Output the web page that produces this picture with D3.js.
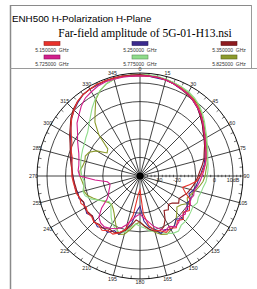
<!DOCTYPE html>
<html>
<head>
<meta charset="utf-8">
<script src="https://cdn.jsdelivr.net/npm/d3@7"></script>
<style>
  body { margin: 0; background: #fff; }
  svg { display: block; }
</style>
</head>
<body>
<svg></svg>
<script>
// angles of the measurement, degrees clockwise from the top
const angles = [0, 5, 10, 15, 20, 25, 30, 35, 40, 45, 50, 55, 60, 65, 70, 75, 80, 85,
  90, 95, 100, 105, 110, 115, 120, 125, 130, 135, 140, 145, 150, 155, 160, 165, 170, 175,
  180, 185, 190, 195, 200, 205, 210, 215, 220, 225, 230, 235, 240, 245, 250, 255, 260, 265,
  270, 275, 280, 285, 290, 295, 300, 305, 310, 315, 320, 325, 330, 335, 340, 345, 350, 355]

// legend names and colours
const freqs = ['5.150000  GHz', '5.250000  GHz', '5.350000  GHz',
  '5.725000  GHz', '5.775000  GHz', '5.825000  GHz']
const colors = ['#e8312b', '#3b2a8e', '#8e1b1f', '#d21f8c', '#8fdc8a', '#8c9b2c']

// amplitude in dB, one value per angle
const s5150 = [13.9, 13.9, 13.9, 13.4, 12.8, 12.3, 11.2, 10.1, 8.5, 6.4, 4.2, 2.1, 0.4, -1.2, -2.3, -3.3, -4.4, -6.0,
  -7.6, -9.3, -13.0, -16.3, -14.1, -10.3, -9.3, -7.6, -9.8, -7.1, -8.7, -6.0, -7.6, -6.6, -8.7, -9.8, -13.0, -19.5,
  -32.5, -30.3, -18.4, -10.3, -7.6, -5.5, -6.0, -4.4, -5.5, -5.0, -6.0, -5.5, -6.6, -5.0, -5.5, -4.4, -4.4, -3.9,
  -3.3, -3.3, -2.8, -2.3, -0.6, 0.4, 2.6, 5.3, 8.0, 10.1, 12.3, 13.4, 13.9, 14.5, 14.5, 14.5, 14.5, 13.9]
const s5250 = [13.9, 13.9, 13.4, 13.4, 12.8, 11.8, 11.2, 9.6, 8.0, 5.8, 3.7, 1.5, -0.1, -1.7, -2.8, -3.9, -5.0, -6.6,
  -7.6, -8.7, -9.3, -10.3, -12.0, -9.8, -10.9, -8.7, -9.3, -7.6, -9.8, -7.6, -6.6, -8.2, -7.1, -10.3, -12.0, -15.7,
  -23.8, -21.1, -14.1, -10.3, -6.6, -7.6, -5.0, -6.0, -4.4, -5.5, -6.6, -5.0, -6.0, -6.6, -5.0, -5.5, -4.4, -4.4,
  -3.9, -3.3, -2.8, -1.7, -0.6, 1.0, 3.1, 5.3, 8.0, 10.1, 11.8, 13.4, 13.9, 13.9, 14.5, 14.5, 14.5, 13.9]
const s5350 = [14.5, 13.9, 13.9, 13.4, 12.8, 11.8, 10.7, 9.6, 8.0, 5.8, 3.7, 1.5, -0.1, -1.7, -3.3, -4.4, -6.0, -7.6,
  -8.7, -9.8, -10.9, -12.0, -13.0, -14.6, -15.7, -14.6, -17.4, -18.4, -16.3, -17.4, -13.0, -9.8, -8.7, -9.3, -10.9, -13.0,
  -15.2, -16.3, -13.0, -9.8, -7.6, -6.6, -7.1, -5.5, -6.0, -5.0, -6.6, -6.0, -5.5, -6.6, -5.5, -5.0, -5.0, -4.4,
  -3.9, -3.3, -2.3, -1.2, -0.1, 1.5, 3.7, 5.8, 8.5, 10.7, 12.3, 13.4, 13.9, 14.5, 14.5, 14.5, 14.5, 14.5]
const s5725 = [13.9, 13.9, 13.9, 13.4, 12.8, 11.8, 11.2, 9.6, 8.0, 6.4, 4.2, 2.1, 0.4, -1.2, -2.3, -3.3, -4.4, -5.5,
  -6.6, -7.6, -8.7, -9.8, -9.3, -10.3, -8.7, -9.8, -8.2, -9.3, -7.6, -6.6, -8.7, -7.6, -9.8, -12.0, -15.2, -17.4,
  -19.5, -18.4, -16.3, -13.0, -10.3, -8.7, -7.6, -6.6, -7.1, -8.7, -13.0, -18.4, -20.5, -21.6, -22.7, -23.3, -22.2, -15.7,
  -7.6, -6.6, -6.6, -6.0, -5.0, -3.3, -1.2, 1.0, 4.2, 6.4, 9.1, 11.2, 12.3, 13.4, 13.9, 13.9, 13.9, 13.9]
const s5775 = [14.5, 14.5, 14.5, 13.9, 13.4, 12.8, 12.3, 11.2, 9.6, 7.5, 5.3, 3.1, 1.5, -0.1, -1.2, -2.3, -2.8, -3.3,
  -3.9, -4.4, -5.5, -6.0, -6.6, -6.0, -7.1, -6.6, -6.0, -5.5, -5.5, -3.9, -4.4, -6.0, -7.6, -9.3, -9.8, -12.0,
  -13.0, -14.1, -12.0, -8.7, -7.6, -8.7, -10.3, -13.0, -15.7, -17.9, -18.4, -16.8, -14.1, -10.9, -8.7, -8.2, -9.3, -9.8,
  -8.7, -8.2, -7.6, -7.1, -6.6, -6.0, -5.5, -4.4, -3.3, -1.2, 1.5, 4.8, 8.0, 10.7, 12.8, 13.9, 14.5, 14.5]
const s5825 = [14.5, 14.5, 13.9, 13.9, 13.4, 12.8, 11.8, 10.7, 9.1, 6.9, 4.8, 2.6, 1.0, -0.6, -1.7, -2.8, -3.3, -4.4,
  -5.0, -6.0, -7.6, -9.3, -10.9, -12.0, -10.3, -13.0, -14.1, -12.0, -9.8, -7.6, -6.6, -5.5, -6.6, -8.7, -10.9, -13.0,
  -15.2, -14.1, -10.9, -7.6, -6.6, -9.8, -13.0, -15.7, -17.4, -18.4, -17.9, -16.3, -14.1, -12.0, -9.8, -8.7, -9.3, -8.7,
  -7.6, -7.6, -8.7, -9.3, -8.7, -9.8, -13.0, -18.4, -17.4, -8.7, -2.3, 2.1, 7.5, 10.7, 12.8, 13.9, 14.5, 14.5]

const series = [s5150, s5250, s5350, s5725, s5775, s5825]
// order in which the traces are drawn (last one on top)
const drawOrder = [5, 4, 1, 2, 0, 3]

// grid
const ringValues = [-30, -20, -10, 0, 10]
const ringLabels = [-30, -20, 0, 10]
const degLabels = [0, 15, 30, 45, 60, 75, 90, 105, 120, 135, 150, 165,
  180, 195, 210, 225, 240, 255, 270, 285, 300, 315, 330, 345]
const minorDeg = [0, 5, 10, 15, 20, 25, 30, 35, 40, 45, 50, 55, 60, 65, 70, 75, 80, 85,
  90, 95, 100, 105, 110, 115, 120, 125, 130, 135, 140, 145, 150, 155, 160, 165, 170, 175,
  180, 185, 190, 195, 200, 205, 210, 215, 220, 225, 230, 235, 240, 245, 250, 255, 260, 265,
  270, 275, 280, 285, 290, 295, 300, 305, 310, 315, 320, 325, 330, 335, 340, 345, 350, 355]
const dbTicks = [-38, -36, -34, -32, -28, -26, -24, -22, -18, -16, -14, -12, -8, -6, -4, -2, 2, 4, 6, 8, 12, 14]

const width = 257
const height = 289
const cx = 140
const cy = 176
const rOuter = 103
const rLabel = 106.5

const svg = d3.select('svg').attr('width', width).attr('height', height)

// frame of the window
svg.append('line').attr('x1', 10.5).attr('y1', 5).attr('x2', 10.5).attr('y2', height)
  .attr('stroke', '#8a8a8a').attr('stroke-width', 1.5)
svg.append('line').attr('x1', 10).attr('y1', 5.5).attr('x2', 252).attr('y2', 5.5)
  .attr('stroke', '#8a8a8a').attr('stroke-width', 1)
svg.append('line').attr('x1', 251.5).attr('y1', 5).attr('x2', 251.5).attr('y2', 68)
  .attr('stroke', '#9a9a9a').attr('stroke-width', 1)
svg.append('line').attr('x1', 10).attr('y1', 68.5).attr('x2', width).attr('y2', 68.5)
  .attr('stroke', '#9a9a9a').attr('stroke-width', 1)

// titles
svg.append('text').attr('x', 12).attr('y', 21.5)
  .style('font', '9.8px "Liberation Sans", Arial, sans-serif')
  .text('ENH500 H-Polarization H-Plane')
svg.append('text').attr('x', 145).attr('y', 37).attr('text-anchor', 'middle')
  .style('font', '11.5px "Liberation Serif", "Times New Roman", serif')
  .text('Far-field amplitude of 5G-01-H13.nsi')

// legend: 3 columns, 2 rows
const colX = [52, 140, 229]
const rowY = [41.5, 55]
const legend = svg.append('g')
freqs.forEach((f, i) => {
  const x = colX[i % 3]
  const y = rowY[Math.floor(i / 3)]
  legend.append('rect')
    .attr('x', x - 8).attr('y', y).attr('width', 16).attr('height', 4)
    .attr('fill', colors[i])
    .attr('stroke', d3.color(colors[i]).darker(1.2)).attr('stroke-width', 0.6)
  legend.append('text')
    .attr('x', x).attr('y', y + 10.5).attr('text-anchor', 'middle')
    .style('font', '5px "Liberation Sans", Arial, sans-serif')
    .style('white-space', 'pre').attr('fill', '#333')
    .text(f)
})

// radial scale: dB -> pixels
const scR = d3.scaleLinear().domain([-40, 10]).range([0, 93])
const rad = a => a * Math.PI / 180
const px = (a, r) => r * Math.sin(rad(a))
const py = (a, r) => -r * Math.cos(rad(a))

const grid = svg.append('g').attr('transform', `translate(${cx}, ${cy})`)

grid.selectAll('.ring').data(ringValues).enter().append('circle')
  .attr('r', d => scR(d)).attr('fill', 'none')
  .attr('stroke', '#1a1a1a').attr('stroke-width', 0.8)
grid.append('circle').attr('r', rOuter).attr('fill', 'none')
  .attr('stroke', '#111').attr('stroke-width', 1)

// spokes every 15 degrees
grid.selectAll('.spoke').data(degLabels).enter().append('line')
  .attr('x1', 0).attr('y1', 0)
  .attr('x2', d => px(d, rOuter)).attr('y2', d => py(d, rOuter))
  .attr('stroke', '#111').attr('stroke-width', 0.8)
grid.append('circle').attr('r', 3.5).attr('fill', '#000')

// small ticks on the outer circle
grid.selectAll('.tick').data(minorDeg.filter(d => d % 15 !== 0)).enter().append('line')
  .attr('x1', d => px(d, rOuter)).attr('y1', d => py(d, rOuter))
  .attr('x2', d => px(d, rOuter - 3)).attr('y2', d => py(d, rOuter - 3))
  .attr('stroke', '#111').attr('stroke-width', 0.6)

// ticks along the 90 degree axis
grid.selectAll('.dbtick').data(dbTicks).enter().append('line')
  .attr('x1', d => scR(d)).attr('x2', d => scR(d))
  .attr('y1', -1.2).attr('y2', 1.2)
  .attr('stroke', '#111').attr('stroke-width', 0.6)

// degree labels
grid.selectAll('.deg').data(degLabels).enter().append('text')
  .attr('x', d => px(d, rLabel)).attr('y', d => py(d, rLabel) + 1.8)
  .attr('text-anchor', 'middle')
  .style('font', '5.3px "Liberation Sans", Arial, sans-serif').attr('fill', '#222')
  .text(d => d)

// dB labels under the horizontal axis
grid.selectAll('.db').data(ringLabels).enter().append('text')
  .attr('x', d => scR(d)).attr('y', 6)
  .attr('text-anchor', 'middle')
  .style('font', '5.3px "Liberation Sans", Arial, sans-serif').attr('fill', '#222')
  .text(d => d === 10 ? '10dB' : d)

// traces
const line = d3.lineRadial()
  .angle(d => rad(d[0]))
  .radius(d => scR(d[1]))
  .curve(d3.curveLinearClosed)

drawOrder.forEach(i => {
  const pts = angles.map((a, k) => [a, series[i][k]])
  grid.append('path')
    .attr('d', line(pts))
    .attr('fill', 'none')
    .attr('stroke', colors[i])
    .attr('stroke-width', 1.1)
})
</script>
</body>
</html>
